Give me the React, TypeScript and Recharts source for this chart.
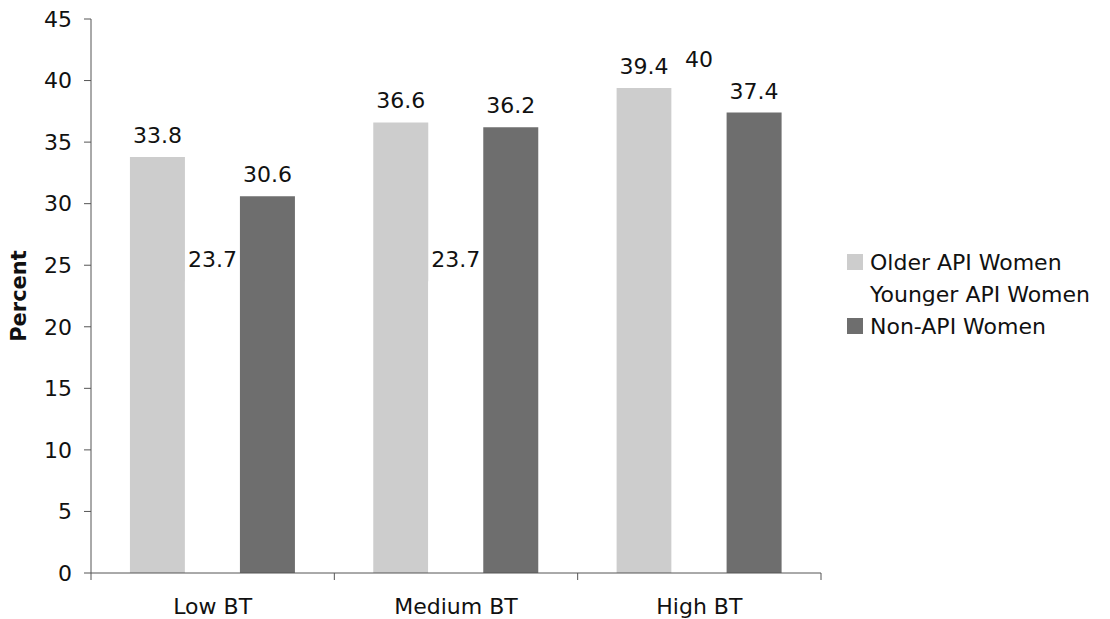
import React from "react"
import { Bar, BarChart, LabelList, Legend, XAxis, YAxis } from "recharts"

// categories and series
const categories = ["Low BT", "Medium BT", "High BT"]
const olderApi = [33.8, 36.6, 39.4]
const youngerApi = [23.7, 23.7, 40]
const nonApi = [30.6, 36.2, 37.4]
const yTicks = [0, 5, 10, 15, 20, 25, 30, 35, 40, 45]

const series = [
  { key: "older", name: "Older API Women", color: "#cdcdcd" },
  { key: "younger", name: "Younger API Women", color: "#ffffff" },
  { key: "nonApi", name: "Non-API Women", color: "#6e6e6e" },
]

const data = categories.map((name, i) => ({
  name,
  older: olderApi[i],
  younger: youngerApi[i],
  nonApi: nonApi[i],
}))

const FONT = "'DejaVu Sans', Verdana, sans-serif"
const TEXT = "#111111"
const AXIS = "#555555"
const FS = 22

// category label plus tick marks on the band edges
function CategoryTick(props: any) {
  const { x, y, payload, width, visibleTicksCount } = props
  const half = width / visibleTicksCount / 2
  const last = payload.index === visibleTicksCount - 1
  return (
    <g>
      <line x1={x - half} x2={x - half} y1={y} y2={y + 7} stroke={AXIS} />
      {last && <line x1={x + half} x2={x + half} y1={y} y2={y + 7} stroke={AXIS} />}
      <text x={x} y={y + 25} dy="0.71em" textAnchor="middle" fontSize={FS} fill={TEXT}>
        {payload.value}
      </text>
    </g>
  )
}

function PercentLabel(props: any) {
  const { viewBox } = props
  const x = viewBox.x + 26
  const y = viewBox.y + viewBox.height / 2
  return (
    <text x={x} y={y} transform={`rotate(-90, ${x}, ${y})`} textAnchor="middle" fontSize={21} fontWeight="bold" fill={TEXT}>
      Percent
    </text>
  )
}

function LegendBox() {
  return (
    <div style={{ fontFamily: FONT }}>
      {series.map((s) => (
        <div key={s.key} style={{ display: "flex", alignItems: "center", height: 32 }}>
          <span style={{ width: 16, height: 16, background: s.color, marginRight: 7, display: "inline-block" }} />
          <span style={{ fontSize: FS, color: TEXT, whiteSpace: "nowrap" }}>{s.name}</span>
        </div>
      ))}
    </div>
  )
}

export default function App() {
  return (
    <div style={{ position: "absolute", left: 0, top: 0, width: 1110, height: 619, background: "#fff", fontFamily: FONT }}>
      <BarChart
        width={1110}
        height={619}
        data={data}
        margin={{ top: 19, right: 289, bottom: 0, left: 0 }}
        barCategoryGap="16%"
        barGap={0}
      >
        <XAxis
          dataKey="name"
          height={46}
          tickLine={false}
          tickSize={0}
          tickMargin={0}
          axisLine={{ stroke: AXIS }}
          tick={<CategoryTick />}
          interval={0}
        />
        <YAxis
          width={91}
          domain={[0, 45]}
          ticks={yTicks}
          tickSize={7}
          tickMargin={12}
          axisLine={{ stroke: AXIS }}
          tickLine={{ stroke: AXIS }}
          tick={{ fontSize: FS, fill: TEXT }}
          label={<PercentLabel />}
        />
        <Legend
          layout="horizontal"
          verticalAlign="middle"
          align="center"
          wrapperStyle={{ left: 847, top: 246, width: 263 }}
          content={() => <LegendBox />}
        />
        {series.map((s) => (
          <Bar key={s.key} dataKey={s.key} name={s.name} fill={s.color} isAnimationActive={false}>
            <LabelList dataKey={s.key} position="top" offset={14} fontSize={FS} fill={TEXT} />
          </Bar>
        ))}
      </BarChart>
    </div>
  )
}
